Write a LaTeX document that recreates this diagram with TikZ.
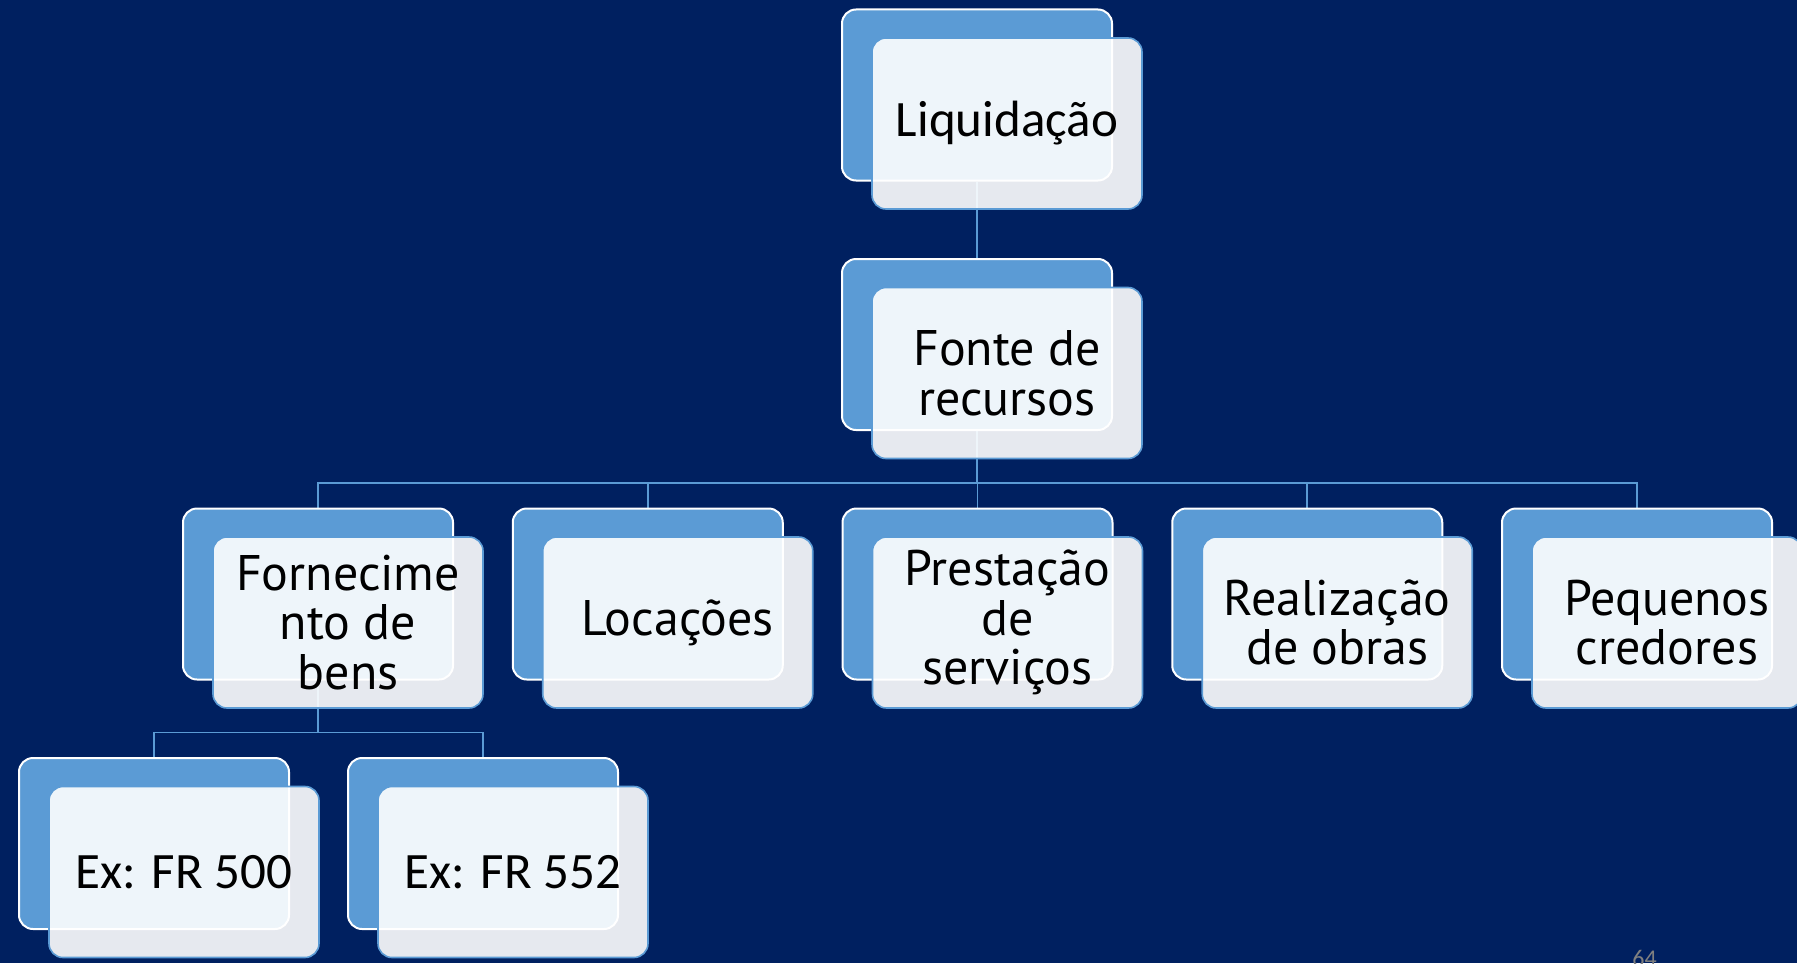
\documentclass[tikz,border=0pt]{standalone}
\usepackage{fontspec}
\setmainfont{PT Sans}
\newfontfamily\calib{Carlito}
\definecolor{navy}{RGB}{0,32,96}
\definecolor{accent}{RGB}{91,155,213}
\pgfdeclarelayer{bg}
\pgfdeclarelayer{lines}
\pgfsetlayers{bg,lines,main}

% one item: blue card behind, light card with the text in front
\newcommand{\card}[4]{%
  \node[backcard] (#1-b) at (#2,#3) {};
  \node[frontcard] (#1) at (#2+30,#3+28.5) {#4};
}
\newcommand{\cfont}{\calib\fontsize{25.5}{30}\selectfont}

\begin{document}
\begin{tikzpicture}[x=0.5pt,y=-0.5pt,
    backcard/.style={draw=white,line width=1pt,fill=accent,rounded corners=7pt,
        minimum width=135pt,minimum height=85.5pt,inner sep=0pt},
    frontcard/.style={draw=accent,line width=0.8pt,fill=white,fill opacity=0.9,
        text opacity=1,rounded corners=7pt,minimum width=135pt,minimum height=85.5pt,
        inner sep=0pt,align=center,font=\fontsize{25}{24.8}\selectfont},
    conn/.style={draw=accent,line width=0.8pt}]
    \useasboundingbox (0,0) rectangle (1797,963);
    \begin{pgfonlayer}{bg}
        \fill[navy] (0,0) rectangle (1797,963);
    \end{pgfonlayer}

    \card{liq}{977}{95}{\cfont Liquidação}
    \card{fonte}{977}{344.5}{Fonte de\\recursos}

    \card{forn}{318}{594}{Fornecime\\nto de\\bens}
    \card{loc}{647.75}{594}{Locações}
    \card{prest}{977.5}{594}{Prestação\\de\\serviços}
    \card{real}{1307.25}{594}{Realização\\de obras}
    \card{peq}{1637}{594}{Pequenos\\credores}

    \card{ex1}{154}{843.5}{\cfont Ex: FR 500}
    \card{ex2}{483}{843.5}{\cfont Ex: FR 552}

    % connectors behind the cards
    \begin{pgfonlayer}{lines}
        \draw[conn] (liq-b.south) -- (fonte-b.north);
        \foreach \c in {forn,loc,prest,real,peq}
            \draw[conn] (fonte-b.south) -- ++(0,52) -| (\c-b.north);
        \foreach \c in {ex1,ex2}
            \draw[conn] (forn-b.south) -- ++(0,52) -| (\c-b.north);
    \end{pgfonlayer}

    \node[anchor=north west,inner sep=0pt,text=gray,font=\calib\fontsize{12}{14}\selectfont] (pg) at (1632,950) {64};
\end{tikzpicture}
\end{document}
